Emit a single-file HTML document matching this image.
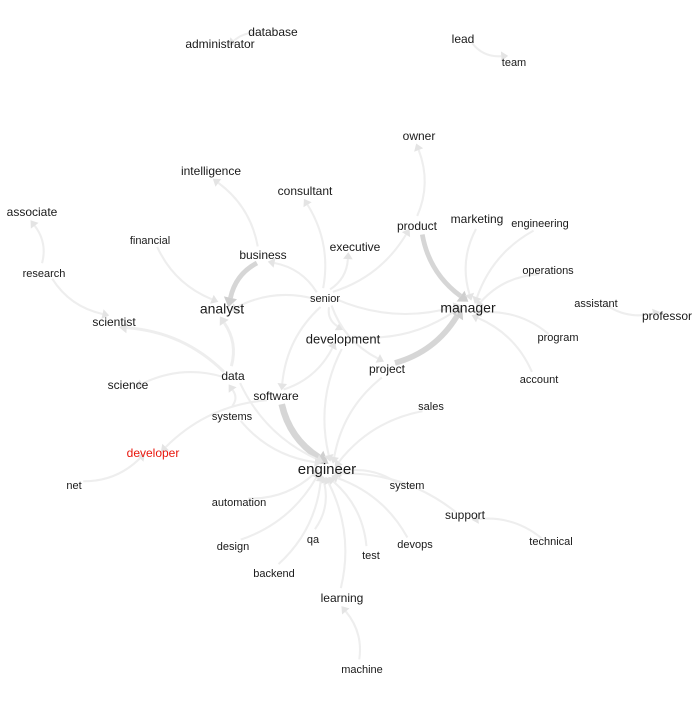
<!DOCTYPE html>
<html><head><meta charset="utf-8"><style>
html,body{margin:0;padding:0;background:#fff;}
svg text{font-family:"Liberation Sans",sans-serif;text-anchor:middle;dominant-baseline:middle;fill:#1a1a1a;}
</style></head><body>
<svg id="g" width="700" height="700" viewBox="0 0 700 700">
<g id="edges"></g>
<g id="nodes"></g>
</svg>
<script>
const nodeNames=["database","administrator","lead","team","owner","intelligence","consultant","associate","financial","business","executive","product","marketing","engineering","research","operations","senior","analyst","manager","assistant","professor","scientist","development","program","project","science","data","account","software","sales","systems","developer","engineer","net","system","automation","support","technical","design","qa","devops","test","backend","learning","machine"];
const nodeX=[273,220,463,514,419,211,305,32,150,263,355,417,477,540,44,548,325,222,468,596,667,114,343,558,387,128,233,539,276,431,232,153,327,74,407,239,465,551,233,313,415,371,274,342,362];
const nodeY=[32,44,39,62,136,171,191,212,240,255,247,226,219,223,273,270,298,309,308,303,316,322,339,337,369,385,376,379,396,406,416,453,469,485,485,502,515,541,546,539,544,555,573,598,669];
const nodeSize=[12,12,12,11,12,12,12,12,11,12,12,12,12,11,11,11,11,14,14,11,12,12,13,11,12,12,12,11,12,11,11,12,15,11,11,11,12,11,11,11,11,11,11,12,11];
const edgeFrom=["database","lead","product","product","marketing","engineering","operations","assistant","program","account","project","senior","development","business","financial","business","data","senior","senior","senior","senior","senior","senior","senior","research","research","data","data","software","software","data","systems","net","system","support","technical","automation","design","qa","test","devops","backend","learning","machine","development","project","sales","senior","systems","software"];
const edgeTo=["administrator","team","owner","manager","manager","manager","manager","professor","manager","manager","manager","manager","manager","analyst","analyst","intelligence","analyst","analyst","business","executive","development","software","project","product","associate","scientist","scientist","science","engineer","development","engineer","engineer","developer","engineer","engineer","support","engineer","engineer","engineer","engineer","engineer","engineer","engineer","learning","engineer","engineer","engineer","consultant","data","developer"];
const edgeWeight=[1,1,1,4,1,1,1,1,1,1,5,1,1,4,1,1,2,1,1,1,1,1,1,1,1,1,2,1,6,1,1,1,1,1,1,1,1,1,1,1,1,1,1,1,1,1,1,1,1,1];
const NS="http://www.w3.org/2000/svg";
const eg=document.getElementById('edges'),ng=document.getElementById('nodes');
function idx(n){return nodeNames.indexOf(n);}
for(let i=0;i<edgeFrom.length;i++){
 const a=idx(edgeFrom[i]),b=idx(edgeTo[i]);
 let x1=nodeX[a],y1=nodeY[a],x2=nodeX[b],y2=nodeY[b];
 const dx=x2-x1,dy=y2-y1,L=Math.hypot(dx,dy)||1;
 const ux=dx/L,uy=dy/L;
 x1+=ux*10;y1+=uy*10;
 const ex=x2-ux*14,ey=y2-uy*14;
 const cx=(x1+ex)/2-uy*L*0.15,cy=(y1+ey)/2+ux*L*0.15;
 const w=edgeWeight[i];
 const p=document.createElementNS(NS,'path');
 p.setAttribute('d',`M${x1},${y1} Q${cx},${cy} ${ex},${ey}`);
 p.setAttribute('fill','none');
 p.setAttribute('stroke',w>2?'#d6d6d6':'#eeeeee');
 p.setAttribute('stroke-width',1.2+w*0.9);
 
 
 eg.appendChild(p);
 let tx=ex-cx,ty=ey-cy;const tl=Math.hypot(tx,ty)||1;tx/=tl;ty/=tl;
 const s=6+w*0.9;
 const ar=document.createElementNS(NS,'polygon');
 ar.setAttribute('points',`${ex+tx*s},${ey+ty*s} ${ex-ty*s*0.7},${ey+tx*s*0.7} ${ex+ty*s*0.7},${ey-tx*s*0.7}`);
 ar.setAttribute('fill',w>2?'#cfcfcf':'#e4e4e4');
 
 
 eg.appendChild(ar);
}
for(let i=0;i<nodeNames.length;i++){
 const t=document.createElementNS(NS,'text');
 t.setAttribute('x',nodeX[i]);t.setAttribute('y',nodeY[i]+1);
 t.setAttribute('font-size',nodeSize[i]);
 if(nodeNames[i]==='developer')t.setAttribute('style','fill:#e8160c');
 t.textContent=nodeNames[i];
 
 
 ng.appendChild(t);
}
</script>
</body></html>
